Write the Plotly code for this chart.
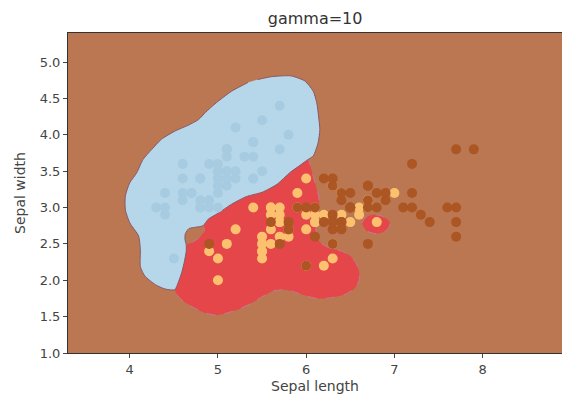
import plotly.graph_objects as go

# Iris data: sepal length / sepal width per class
setosa_x = [5.1,4.9,4.7,4.6,5.0,5.4,4.6,5.0,4.4,4.9,5.4,4.8,4.8,4.3,5.8,5.7,5.4,5.1,5.7,5.1,
            5.4,5.1,4.6,5.1,4.8,5.0,5.0,5.2,5.2,4.7,4.8,5.4,5.2,5.5,4.9,5.0,5.5,4.9,4.4,5.1,
            5.0,4.5,4.4,5.0,5.1,4.8,5.1,4.6,5.3,5.0]
setosa_y = [3.5,3.0,3.2,3.1,3.6,3.9,3.4,3.4,2.9,3.1,3.7,3.4,3.0,3.0,4.0,4.4,3.9,3.5,3.8,3.8,
            3.4,3.7,3.6,3.3,3.4,3.0,3.4,3.5,3.4,3.2,3.1,3.4,4.1,4.2,3.1,3.2,3.5,3.6,3.0,3.4,
            3.5,2.3,3.2,3.5,3.8,3.0,3.8,3.2,3.7,3.3]
versicolor_x = [7.0,6.4,6.9,5.5,6.5,5.7,6.3,4.9,6.6,5.2,5.0,5.9,6.0,6.1,5.6,6.7,5.6,5.8,6.2,5.6,
                5.9,6.1,6.3,6.1,6.4,6.6,6.8,6.7,6.0,5.7,5.5,5.5,5.8,6.0,5.4,6.0,6.7,6.3,5.6,5.5,
                5.5,6.1,5.8,5.0,5.6,5.7,5.7,6.2,5.1,5.7]
versicolor_y = [3.2,3.2,3.1,2.3,2.8,2.8,3.3,2.4,2.9,2.7,2.0,3.0,2.2,2.9,2.9,3.1,3.0,2.7,2.2,2.5,
                3.2,2.8,2.5,2.8,2.9,3.0,2.8,3.0,2.9,2.6,2.4,2.4,2.7,2.7,3.0,3.4,3.1,2.3,3.0,2.5,
                2.6,3.0,2.6,2.3,2.7,3.0,2.9,2.9,2.5,2.8]
virginica_x = [6.3,5.8,7.1,6.3,6.5,7.6,4.9,7.3,6.7,7.2,6.5,6.4,6.8,5.7,5.8,6.4,6.5,7.7,7.7,6.0,
               6.9,5.6,7.7,6.3,6.7,7.2,6.2,6.1,6.4,7.2,7.4,7.9,6.4,6.3,6.1,7.7,6.3,6.4,6.0,6.9,
               6.7,6.9,5.8,6.8,6.7,6.7,6.3,6.5,6.2,5.9]
virginica_y = [3.3,2.7,3.0,2.9,3.0,3.0,2.5,2.9,2.5,3.6,3.2,2.7,3.0,2.5,2.8,3.2,3.0,3.8,2.6,2.2,
               3.2,2.8,2.8,2.7,3.3,3.2,2.8,3.0,2.8,3.0,2.8,3.8,2.8,2.8,2.6,3.0,3.4,3.1,3.0,3.1,
               3.1,3.1,2.7,3.2,3.3,3.0,2.5,3.0,3.4,3.0]

# Decision regions (data units)
region0_x = [5.45,5.61,5.83,5.985,6.08,6.12,6.14,6.155,6.135,6.08,6.02,
             5.93,5.815,5.67,5.50,5.32,5.16,5.00,4.89,4.83,
             4.75,4.67,4.63,4.626,4.64,
             4.64,4.62,4.59,4.55,4.51,
             4.40,4.29,4.17,4.12,4.12,4.10,4.00,3.95,3.95,4.00,4.08,4.15,4.25,4.36,4.51,
             4.66,4.78,4.86,4.98,5.155,5.34]
region0_y = [4.76,4.80,4.81,4.74,4.60,4.44,4.26,4.07,3.89,3.71,3.66,
             3.58,3.48,3.32,3.21,3.15,3.05,2.92,2.84,2.75,
             2.73,2.71,2.64,2.56,2.49,
             2.40,2.26,2.11,1.97,1.87,
             1.88,1.94,2.06,2.19,2.42,2.61,2.79,2.97,3.16,3.34,3.48,3.66,3.80,3.94,4.05,
             4.13,4.21,4.31,4.44,4.60,4.72]

region1_x = [6.02,6.06,6.10,6.14,6.15,6.13,6.11,6.12,6.17,6.27,6.40,6.495,6.56,6.60,6.60,6.55,
             6.45,6.29,6.12,5.96,5.84,5.74,5.62,5.51,5.385,5.25,5.10,4.985,4.86,4.73,4.61,4.535,
             4.51,4.46,4.55,4.58,4.64,4.72,4.80,4.85,4.83,4.80,5.08,5.42,5.76,5.93]
region1_y = [3.70,3.52,3.34,3.16,3.02,2.86,2.73,2.60,2.51,2.44,2.40,2.34,2.245,2.12,2.00,1.89,
             1.81,1.76,1.75,1.80,1.85,1.87,1.85,1.78,1.69,1.61,1.55,1.52,1.55,1.62,1.71,1.80,
             1.87,2.08,2.35,2.48,2.49,2.53,2.60,2.68,2.75,2.90,3.11,3.30,3.55,3.70]

island1_x = [6.63,6.67,6.77,6.88,6.95,6.92,6.80,6.68]
island1_y = [2.78,2.86,2.90,2.87,2.79,2.70,2.64,2.68]

x_ticks = [4, 5, 6, 7, 8]
y_ticks = [1.0, 1.5, 2.0, 2.5, 3.0, 3.5, 4.0, 4.5, 5.0]

BG = "#bb7752"
RED = "#e4464a"
BLUE = "#b6d7e9"

fig = go.Figure()

fig.add_trace(go.Scatter(x=region1_x, y=region1_y, mode="lines", fill="toself",
                         fillcolor=RED, line=dict(color="#c87890", width=1, dash="dash",
                                                  shape="spline", smoothing=0.6),
                         hoverinfo="skip", showlegend=False))
fig.add_trace(go.Scatter(x=island1_x, y=island1_y, mode="lines", fill="toself",
                         fillcolor=RED, line=dict(color="#c87890", width=1, dash="dash",
                                                  shape="spline", smoothing=1.0),
                         hoverinfo="skip", showlegend=False))
fig.add_trace(go.Scatter(x=region0_x, y=region0_y, mode="lines", fill="toself",
                         fillcolor=BLUE, line=dict(color="#8a5868", width=1, shape="spline", smoothing=0.6),
                         hoverinfo="skip", showlegend=False))

for xs, ys, col in [(setosa_x, setosa_y, "#a7cce1"),
                    (versicolor_x, versicolor_y, "#fcc16f"),
                    (virginica_x, virginica_y, "#ac5623")]:
    fig.add_trace(go.Scatter(x=xs, y=ys, mode="markers",
                             marker=dict(color=col, size=10, line=dict(width=0)),
                             showlegend=False))

tick_font = dict(family="DejaVu Sans", size=13, color="#444")
label_font = dict(family="DejaVu Sans", size=14, color="#444")
fig.update_layout(
    width=562, height=407,
    margin=dict(l=68, r=0, t=33, b=54),
    paper_bgcolor="white", plot_bgcolor=BG,
    title=dict(text="gamma=10", x=0.5607, xanchor="center", y=0.955, yanchor="middle",
               font=dict(family="DejaVu Sans", size=16, color="#333")),
    font=tick_font,
)
fig.update_xaxes(range=[3.3, 8.9], tickvals=x_ticks, ticks="outside", ticklen=4, tickcolor="#444",
                 showgrid=False, zeroline=False, showline=True, linecolor="#333", linewidth=1, mirror=True,
                 title=dict(text="Sepal length", font=label_font, standoff=5), tickfont=tick_font)
fig.update_yaxes(range=[1.0, 5.4], tickvals=y_ticks, tickformat=".1f", ticks="outside", ticklen=4,
                 tickcolor="#444", showgrid=False, zeroline=False, showline=True, linecolor="#333",
                 linewidth=1, mirror=True,
                 title=dict(text="Sepal width", font=label_font, standoff=10), tickfont=tick_font)

fig.write_html("out.html")
